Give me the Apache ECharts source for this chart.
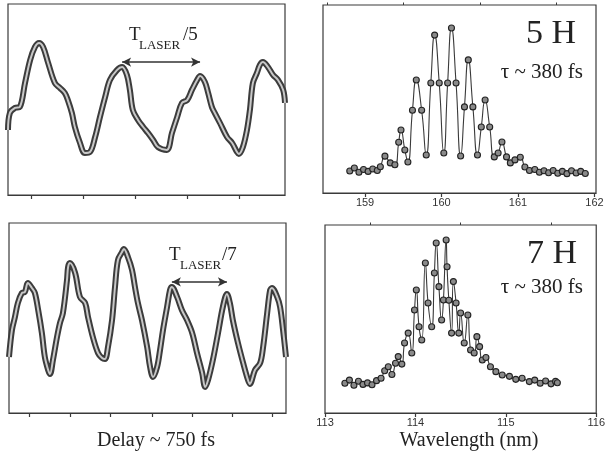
<!DOCTYPE html>
<html><head><meta charset="utf-8">
<script src="https://cdn.jsdelivr.net/npm/echarts@6/dist/echarts.min.js"></script>
<style>html,body{margin:0;padding:0;background:#fff}#c{width:608px;height:461px}</style>
</head><body><div id="c"></div>
<script>
// Delay scans (fs, signal a.u.)
const delay5H = [[0,34.0],[5,42.9],[19,45.6],[32,46.1],[46,58.6],[60,70.7],[73,77.5],[84,79.6],[95,77.5],[108,69.6],[127,58.6],[141,56.0],[154,53.4],[162,49.7],[173,42.9],[181,35.6],[195,27.2],[208,22.0],[222,22.5],[236,30.4],[249,40.8],[263,51.3],[276,60.2],[295,65.4],[309,67.0],[322,62.8],[330,55.0],[338,44.5],[352,39.3],[366,35.6],[379,32.5],[393,28.8],[406,25.1],[430,23.6],[444,32.5],[458,40.8],[471,48.2],[485,49.7],[498,55.0],[512,60.2],[520,62.3],[533,59.2],[542,53.4],[552,46.1],[560,42.9],[574,37.7],[593,30.4],[607,27.2],[620,22.5],[625,21.5],[636,25.1],[647,34.0],[655,44.5],[663,58.6],[674,63.9],[682,68.1],[690,69.6],[704,67.0],[718,62.8],[731,60.2],[745,55.0],[750,48.2]];
const delay7H = [[0,29.5],[8,43.7],[16,50.5],[24,57.9],[35,63.2],[43,63.7],[51,68.4],[62,65.8],[70,63.2],[79,54.2],[89,42.1],[97,29.5],[106,22.6],[111,20.5],[119,27.9],[130,40.0],[138,47.4],[146,52.6],[157,70.0],[160,76.8],[165,78.9],[179,73.7],[192,61.1],[206,57.9],[214,50.5],[227,40.0],[241,31.6],[252,28.9],[260,28.4],[268,34.7],[279,48.9],[287,66.3],[295,80.5],[306,84.7],[311,86.3],[322,82.1],[333,75.3],[341,66.3],[349,57.9],[360,48.9],[374,34.7],[382,24.2],[390,18.9],[401,24.2],[409,33.2],[417,43.7],[428,55.8],[436,64.7],[441,66.3],[455,61.1],[468,54.2],[482,48.9],[496,42.1],[509,31.6],[523,21.1],[531,13.7],[539,17.4],[552,27.9],[566,42.1],[579,55.8],[590,62.6],[598,57.9],[606,48.9],[620,36.8],[634,26.3],[647,17.4],[652,15.3],[666,22.6],[680,26.3],[688,34.7],[699,52.6],[707,64.7],[712,65.8],[726,61.1],[734,55.8],[742,43.7],[750,29.5]];
const delay5Ticks = [62,203,344,485,625];
const delay7Ticks = [54,165,273,387,495,604,712];
const arrow5 = [309,520,69.6];
const arrow7 = [441,590,69];

// Spectra (nm, intensity a.u.)
const spec5H = [[158.80,11.7],[158.86,13.3],[158.92,11.0],[158.98,12.5],[159.04,11.5],[159.10,12.8],[159.16,12.0],[159.20,14.0],[159.26,19.6],[159.33,16.0],[159.39,15.0],[159.44,27.0],[159.47,33.5],[159.52,22.9],[159.56,16.5],[159.62,44.0],[159.67,60.1],[159.74,44.0],[159.80,20.2],[159.86,58.5],[159.91,84.0],[159.97,58.5],[160.03,21.3],[160.08,58.5],[160.13,87.8],[160.19,58.5],[160.25,19.7],[160.30,45.8],[160.35,70.8],[160.41,45.8],[160.47,20.2],[160.52,35.1],[160.57,49.5],[160.63,35.1],[160.69,19.2],[160.74,21.3],[160.79,27.1],[160.85,19.2],[160.90,16.0],[160.96,17.6],[161.03,19.0],[161.09,13.8],[161.15,12.0],[161.22,12.5],[161.28,11.0],[161.34,11.8],[161.40,10.8],[161.46,12.0],[161.52,10.5],[161.58,11.5],[161.64,10.3],[161.70,11.8],[161.76,10.6],[161.82,11.5],[161.88,10.4]];
const spec7H = [[113.22,15.8],[113.27,17.5],[113.32,14.8],[113.37,16.9],[113.42,15.2],[113.47,16.0],[113.52,15.0],[113.57,17.2],[113.62,18.5],[113.66,22.5],[113.70,24.6],[113.74,20.5],[113.78,26.5],[113.81,30.0],[113.85,26.0],[113.88,37.2],[113.92,42.5],[113.96,31.9],[113.99,54.8],[114.01,65.4],[114.04,45.9],[114.07,38.8],[114.11,79.8],[114.14,58.5],[114.18,45.9],[114.21,74.5],[114.23,90.4],[114.26,67.2],[114.29,49.5],[114.31,60.1],[114.34,92.0],[114.35,77.8],[114.37,60.0],[114.40,42.5],[114.42,69.9],[114.45,58.5],[114.48,42.5],[114.50,53.2],[114.54,37.2],[114.58,52.1],[114.61,33.5],[114.65,31.9],[114.68,40.6],[114.71,35.3],[114.74,28.2],[114.78,29.5],[114.83,24.6],[114.89,22.0],[114.96,20.2],[115.04,19.5],[115.11,17.9],[115.18,18.5],[115.26,16.7],[115.32,17.5],[115.38,15.8],[115.44,17.0],[115.50,15.5],[115.55,16.8],[115.57,16.1]];
const spec5Labels = [159,160,161,162];
const spec5Minor = [158.5,159.5,160.5,161.5];
const spec7Labels = [113,114,115,116];
const spec7Minor = [113.5,114.5,115.5];

const serif = '"Liberation Serif","DejaVu Serif",serif';
const sans = '"Liberation Sans",Arial,sans-serif';
const frame = '#3a3a3a';

const chart = echarts.init(document.getElementById('c'), null, {renderer:'canvas'});

function gridBox(l,t,w,h){return {left:l,top:t,width:w,height:h,show:true,borderColor:frame,borderWidth:1.2,backgroundColor:'transparent'};}
function yAx(g){return {type:'value',gridIndex:g,min:0,max:100,axisLine:{show:false},axisTick:{show:false},axisLabel:{show:false},splitLine:{show:false}};}
function delayX(g,ticks){return {type:'value',gridIndex:g,min:0,max:750,axisLine:{show:true,lineStyle:{color:frame,width:1.2}},
  axisTick:{show:true,customValues:ticks,length:4,inside:false,lineStyle:{color:frame,width:1.2}},axisLabel:{show:false},splitLine:{show:false}};}
function specX(g,mn,mx,labels){return {type:'value',gridIndex:g,min:mn,max:mx,axisLine:{show:true,lineStyle:{color:frame,width:1.2}},
  axisTick:{show:true,customValues:labels,length:4,lineStyle:{color:frame,width:1.2}},
  axisLabel:{show:true,customValues:labels,margin:4,fontFamily:sans,fontSize:11,color:'#333',showMinLabel:true,showMaxLabel:true},splitLine:{show:false}};}
function minorX(g,mn,mx,ticks){return {type:'value',gridIndex:g,min:mn,max:mx,axisLine:{show:false},
  axisTick:{show:true,customValues:ticks,length:2.5,lineStyle:{color:frame,width:1}},axisLabel:{show:false},splitLine:{show:false}};}

function tube(data,xi,yi,arrow){
  return [
    {type:'line',xAxisIndex:xi,yAxisIndex:yi,data:data,smooth:0.35,showSymbol:false,silent:true,
      lineStyle:{color:'#3c3c3c',width:6},z:2},
    {type:'line',xAxisIndex:xi,yAxisIndex:yi,data:data,smooth:0.35,showSymbol:false,silent:true,
      lineStyle:{color:'#c8c8c8',width:2},z:3,
      markLine:{silent:true,symbol:['arrow','arrow'],symbolSize:[7,9],label:{show:false},
        lineStyle:{color:'#333',width:1.6,type:'solid'},
        data:[[{coord:[arrow[0],arrow[2]]},{coord:[arrow[1],arrow[2]]}]]}}
  ];
}
function spectrum(data,xi,yi){
  return {type:'line',xAxisIndex:xi,yAxisIndex:yi,data:data,smooth:0.55,showSymbol:true,symbol:'circle',symbolSize:6,silent:true,
    lineStyle:{color:'#3a3a3a',width:1.1},itemStyle:{color:'#8a8a8a',borderColor:'#222',borderWidth:1.1},z:3};
}

function txt(opts){return Object.assign({type:'text',silent:true},opts);}

chart.setOption({
  animation:false,
  backgroundColor:'#fff',
  grid:[gridBox(8,4,277,191),gridBox(323,5,273,188),gridBox(9,223,277,190),gridBox(325,225,273,188)],
  xAxis:[delayX(0,delay5Ticks),specX(1,158.45,162.02,spec5Labels),delayX(2,delay7Ticks),specX(3,113,116,spec7Labels),
    minorX(1,158.45,162.02,spec5Minor),minorX(3,113,116,spec7Minor)],
  yAxis:[yAx(0),yAx(1),yAx(2),yAx(3)],
  series:[].concat(tube(delay5H,0,0,arrow5),[spectrum(spec5H,1,1)],tube(delay7H,2,2,arrow7),[spectrum(spec7H,3,3)]),
  graphic:[
    txt({left:129,top:26,style:{text:'T',font:'19px '+serif,fill:'#222'}}),
    txt({left:139,top:39,style:{text:'LASER',font:'13px '+serif,fill:'#222'}}),
    txt({left:183,top:26,style:{text:'/5',font:'19px '+serif,fill:'#222'}}),
    txt({left:169,top:246,style:{text:'T',font:'19px '+serif,fill:'#222'}}),
    txt({left:180,top:259,style:{text:'LASER',font:'13px '+serif,fill:'#222'}}),
    txt({left:222,top:246,style:{text:'/7',font:'19px '+serif,fill:'#222'}}),
    txt({right:32,top:17,style:{text:'5 H',font:'34px '+serif,fill:'#222'}}),
    txt({right:25,top:62,style:{text:'τ ~ 380 fs',font:'21px '+serif,fill:'#222'}}),
    txt({right:31,top:237,style:{text:'7 H',font:'34px '+serif,fill:'#222'}}),
    txt({right:25,top:277,style:{text:'τ ~ 380 fs',font:'21px '+serif,fill:'#222'}}),
    txt({x:156,y:441,style:{text:'Delay ~ 750 fs',font:'20px '+serif,fill:'#222',align:'center',verticalAlign:'middle'}}),
    txt({x:469,y:441,style:{text:'Wavelength (nm)',font:'20px '+serif,fill:'#222',align:'center',verticalAlign:'middle'}})
  ]
});
</script></body></html>
